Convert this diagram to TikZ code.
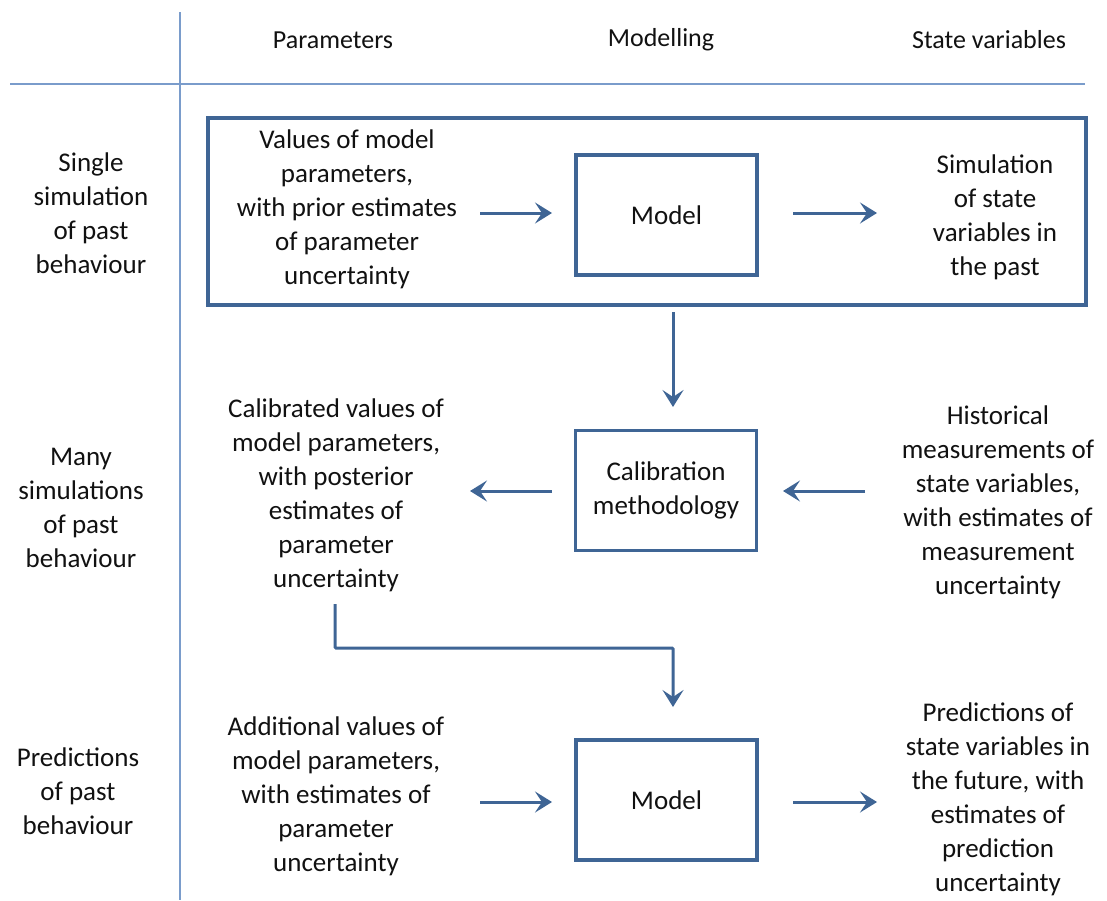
\documentclass[tikz,border=0pt]{standalone}
\usepackage{fontspec}
\setmainfont{Carlito}
\usetikzlibrary{arrows.meta}
\definecolor{boxblue}{HTML}{3F6595}
\definecolor{gridblue}{HTML}{7A9CCB}
\definecolor{txt}{HTML}{111111}
\tikzset{
  lbl/.style={align=center, text=txt, font=\fontsize{27}{34}\selectfont, inner sep=0pt},
  hdr/.style={text=txt, font=\fontsize{26}{32}\selectfont, inner sep=0pt},
  modbox/.style={draw=boxblue, line width=3.8pt, minimum width=181pt, minimum height=120pt, lbl},
  conn/.style={draw=boxblue, line width=3pt, -{Stealth[length=17pt,width=21pt,inset=7pt]}},
  grid/.style={draw=gridblue, line width=1.3pt}
}
\begin{document}
\begin{tikzpicture}[x=1pt,y=-1pt]
\useasboundingbox (0,0) rectangle (1107,900);
% grid
\coordinate (vt) at (180,12);
\coordinate (vb) at (180,900);
\coordinate (hl) at (10,84);
\coordinate (hr) at (1085,84);
\draw[grid] (vt) -- (vb);
\draw[grid, line width=2.4pt] (hl) -- (hr);
% headers
\node[hdr] (h1) at (333,40) {Parameters};
\node[hdr] (h2) at (661,40) {Modelling};
\node[hdr] (h3) at (989,40) {State variables};
% row labels
\node[lbl] (r1) at (91,213) {Single\\simulation\\of past\\behaviour};
\node[lbl] (r2) at (81,508) {Many\\simulations\\of past\\behaviour};
\node[lbl] (r3) at (78,791) {Predictions\\of past\\behaviour};
% row 1
\node[draw=boxblue, line width=4.2pt, minimum width=878pt, minimum height=187pt, inner sep=0pt] (big) at (647,211.5) {};
\node[modbox] (m1) at (666.5,215) {Model};
\node[lbl] (p1) at (347,209) {Values of model\\parameters,\\with prior estimates\\of parameter\\uncertainty};
\node[lbl] (s1) at (995,217) {Simulation\\of state\\variables in\\the past};
\coordinate (a1s) at (480,213);
\coordinate (a1e) at (552,213);
\coordinate (b1s) at (793,213);
\coordinate (b1e) at (877,213);
\draw[conn] (a1s) -- (a1e);
\draw[conn] (b1s) -- (b1e);
% row 2
\node[modbox] (cal) at (666,490.5) {Calibration\\methodology};
\node[lbl] (p2) at (336,495) {Calibrated values of\\model parameters,\\with posterior\\estimates of\\parameter\\uncertainty};
\node[lbl] (s2) at (998,502) {Historical\\measurements of\\state variables,\\with estimates of\\measurement\\uncertainty};
\coordinate (d1e) at (673,407);
\draw[conn] (big.south -| d1e) ++(0,5) -- (d1e);
\coordinate (a2s) at (552,491);
\coordinate (a2e) at (470,491);
\coordinate (b2s) at (865,491);
\coordinate (b2e) at (783,491);
\draw[conn] (a2s) -- (a2e);
\draw[conn] (b2s) -- (b2e);
% elbow
\coordinate (e1) at (335,604);
\coordinate (e2) at (673,707);
\draw[conn, rounded corners=1pt] (e1) -- (335,648) -- (673,648) -- (e2);
% row 3
\node[modbox] (m3) at (666.5,800) {Model};
\node[lbl] (p3) at (336,796) {Additional values of\\model parameters,\\with estimates of\\parameter\\uncertainty};
\node[lbl] (s3) at (998,799) {Predictions of\\state variables in\\the future, with\\estimates of\\prediction\\uncertainty};
\coordinate (a3s) at (480,802);
\coordinate (a3e) at (552,802);
\coordinate (b3s) at (793,802);
\coordinate (b3e) at (877,802);
\draw[conn] (a3s) -- (a3e);
\draw[conn] (b3s) -- (b3e);
\end{tikzpicture}
\end{document}
